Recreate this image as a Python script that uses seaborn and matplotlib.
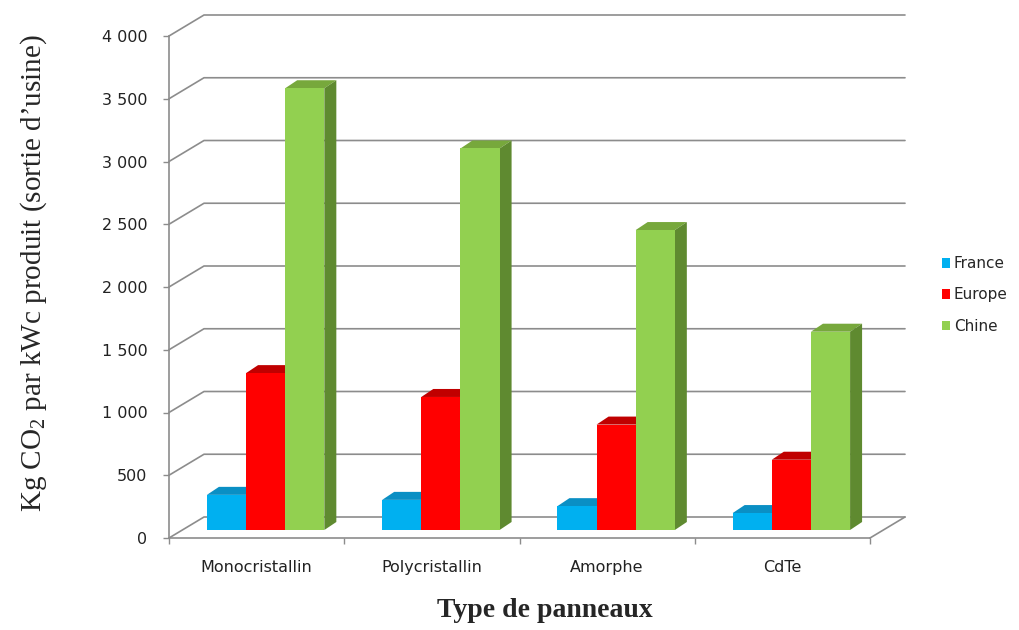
import matplotlib
matplotlib.use('Agg')
import matplotlib.pyplot as plt
import seaborn as sns
import pandas as pd
from matplotlib.patches import Polygon
from matplotlib.transforms import offset_copy
from matplotlib.ticker import FuncFormatter

types = ['Monocristallin', 'Polycristallin', 'Amorphe', 'CdTe']
zones = ['France', 'Europe', 'Chine']
france = [280, 240, 190, 135]
europe = [1250, 1060, 840, 560]
chine = [3520, 3040, 2390, 1580]

couleurs = ['#00b0f0', '#ff0000', '#92d050']
dessus = ['#0a8fc4', '#c00000', '#77a83c']
cote = ['#0577a6', '#a00000', '#5f8a30']

df = pd.DataFrame({'type': types * 3,
                   'zone': [z for z in zones for _ in types],
                   'valeur': france + europe + chine})

sns.set_style('white')
plt.rcParams['font.family'] = ['DejaVu Sans']
plt.rcParams['mathtext.fontset'] = 'custom'
plt.rcParams['mathtext.rm'] = 'Liberation Serif'

fig = plt.figure(figsize=(10.19, 6.30), dpi=100)
ax = fig.add_axes([169 / 1019, 92 / 630, 701 / 1019, 502 / 630])
sns.barplot(data=df, x='type', y='valeur', hue='zone', palette=couleurs,
            width=0.67, linewidth=0, saturation=1, ax=ax)

# pixels -> unites de donnees (effet 3D)
px_x = 701 / 4
px_y = 502 / 4000
def dxy(px, py):
    return px / px_x, py / px_y

gris = '#8c8c8c'
gx, gy = dxy(35, 21)   # profondeur du sol
bx, by = dxy(12, 8)    # profondeur des barres
tr = offset_copy(ax.transData, fig=fig, x=9, y=8, units='dots')

for i, cont in enumerate(ax.containers):
    for p in cont.patches:
        x0, w, h = p.get_x(), p.get_width(), p.get_height()
        p.set_transform(tr)
        p.set_zorder(3 + i)
        top = Polygon([(x0, h), (x0 + w, h), (x0 + w + bx, h + by), (x0 + bx, h + by)],
                      closed=True, transform=tr, facecolor=dessus[i], lw=0, zorder=2.5 + i)
        side = Polygon([(x0 + w, 0), (x0 + w + bx, by), (x0 + w + bx, h + by), (x0 + w, h)],
                       closed=True, transform=tr, facecolor=cote[i], lw=0, zorder=2.5 + i)
        ax.add_patch(top)
        ax.add_patch(side)

yt = list(range(0, 4001, 500))
for v in yt:
    ax.plot([-0.5, -0.5 + gx, 3.5 + gx], [v, v + gy, v + gy], color=gris, lw=1.2,
            clip_on=False, zorder=1)
ax.plot([3.5, 3.5 + gx], [0, gy], color=gris, lw=1.2, clip_on=False, zorder=1)

ax.set_xlim(-0.5, 3.5)
ax.set_ylim(0, 4000)
ax.set_yticks(yt)
ax.yaxis.set_major_formatter(FuncFormatter(lambda v, _: f'{v:,.0f}'.replace(',', ' ')))
ax.set_xticks([-0.5, 0.5, 1.5, 2.5, 3.5], minor=True)

sns.despine(ax=ax)
for s in ['left', 'bottom']:
    ax.spines[s].set_color(gris)
    ax.spines[s].set_linewidth(1.2)

ax.tick_params(axis='y', left=True, length=4.5, width=1, color=gris, labelsize=11.5,
               labelcolor='#222222', pad=11)
ax.tick_params(axis='x', which='major', length=0, labelsize=11.5, labelcolor='#222222', pad=16)
ax.tick_params(axis='x', which='minor', bottom=True, length=4.5, width=1, color=gris)

ax.set_ylabel('Kg CO$_2$ par kWc produit (sortie d’usine)', family='Liberation Serif',
              fontsize=21)
ax.yaxis.set_label_coords(-0.193, 0.528)
ax.yaxis.label.set_va('center')
ax.set_xlabel('Type de panneaux', family='Liberation Serif', weight='bold', fontsize=20)
ax.xaxis.set_label_coords(0.536, -0.12)

ax.legend(title=None, frameon=False, loc='center left',
          bbox_to_anchor=(928 / 1019, 1 - 295 / 630), bbox_transform=fig.transFigure,
          handlelength=0.55, handleheight=0.55, handletextpad=0.25, labelspacing=1.05,
          fontsize=11)

fig.savefig('out.png', dpi=100)
